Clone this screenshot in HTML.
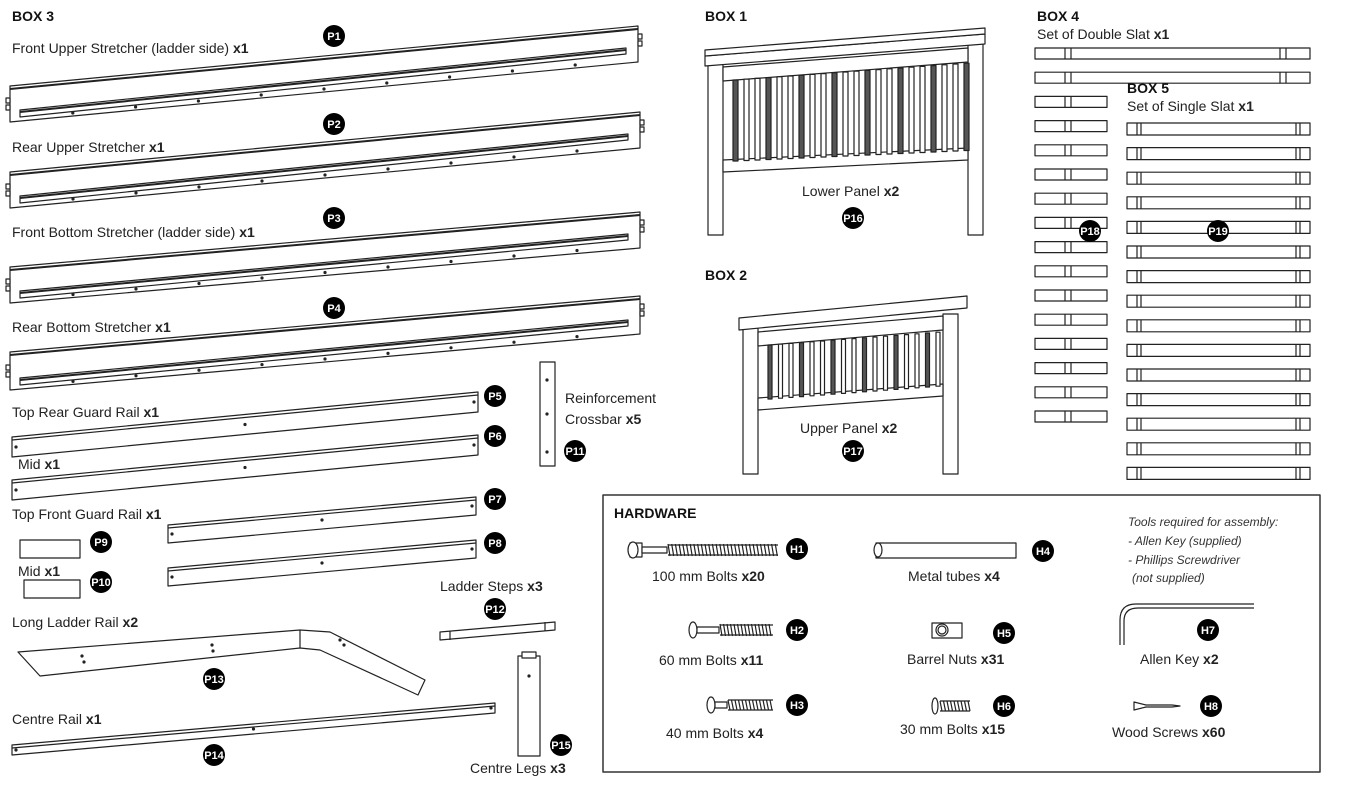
<!DOCTYPE html>
<html><head><meta charset="utf-8"><style>
body{margin:0;background:#fff;width:1351px;height:792px;overflow:hidden;font-family:"Liberation Sans",sans-serif}
svg{position:absolute;left:0;top:0}
.t{font-family:"Liberation Sans",sans-serif;font-size:14px;fill:#222}
.h{font-weight:bold;font-size:14px;fill:#111}
.b{font-weight:bold}
.i{font-style:italic;font-size:12px;fill:#333}
.lt{fill:#fff;font-weight:bold;font-size:11px;text-anchor:middle}
</style></head><body>
<svg id="s" width="1351" height="792" viewBox="0 0 1351 792" xmlns="http://www.w3.org/2000/svg" stroke-linejoin="round">
<g id="g" fill="none" stroke="#222" stroke-width="1.2"></g>
<rect x="603" y="495" width="717" height="277" fill="none" stroke="#333" stroke-width="1.5"/>
<g class="t">
<text x="12" y="21" class="h">BOX 3</text>
<text x="12" y="53">Front Upper Stretcher (ladder side) <tspan class="b">x1</tspan></text>
<text x="12" y="152">Rear Upper Stretcher <tspan class="b">x1</tspan></text>
<text x="12" y="237">Front Bottom Stretcher (ladder side) <tspan class="b">x1</tspan></text>
<text x="12" y="332">Rear Bottom Stretcher <tspan class="b">x1</tspan></text>
<text x="12" y="417">Top Rear Guard Rail <tspan class="b">x1</tspan></text>
<text x="18" y="469">Mid <tspan class="b">x1</tspan></text>
<text x="12" y="519">Top Front Guard Rail <tspan class="b">x1</tspan></text>
<text x="18" y="576">Mid <tspan class="b">x1</tspan></text>
<text x="12" y="627">Long Ladder Rail <tspan class="b">x2</tspan></text>
<text x="12" y="724">Centre Rail <tspan class="b">x1</tspan></text>
<text x="565" y="403">Reinforcement</text>
<text x="565" y="424">Crossbar <tspan class="b">x5</tspan></text>
<text x="440" y="591">Ladder Steps <tspan class="b">x3</tspan></text>
<text x="470" y="773">Centre Legs <tspan class="b">x3</tspan></text>
<text x="705" y="21" class="h">BOX 1</text>
<text x="802" y="196">Lower Panel <tspan class="b">x2</tspan></text>
<text x="705" y="280" class="h">BOX 2</text>
<text x="800" y="433">Upper Panel <tspan class="b">x2</tspan></text>
<text x="1037" y="21" class="h">BOX 4</text>
<text x="1037" y="39">Set of Double Slat <tspan class="b">x1</tspan></text>
<text x="1127" y="93" class="h">BOX 5</text>
<text x="1127" y="111">Set of Single Slat <tspan class="b">x1</tspan></text>
<text x="614" y="518" class="h">HARDWARE</text>
<text x="652" y="581">100 mm Bolts <tspan class="b">x20</tspan></text>
<text x="659" y="665">60 mm Bolts <tspan class="b">x11</tspan></text>
<text x="666" y="738">40 mm Bolts <tspan class="b">x4</tspan></text>
<text x="908" y="581">Metal tubes <tspan class="b">x4</tspan></text>
<text x="907" y="664">Barrel Nuts <tspan class="b">x31</tspan></text>
<text x="900" y="734">30 mm Bolts <tspan class="b">x15</tspan></text>
<text x="1140" y="664">Allen Key <tspan class="b">x2</tspan></text>
<text x="1112" y="737">Wood Screws <tspan class="b">x60</tspan></text>
<text x="1128" y="526" class="i">Tools required for assembly:</text>
<text x="1128" y="545" class="i">- Allen Key (supplied)</text>
<text x="1128" y="564" class="i">- Phillips Screwdriver</text>
<text x="1132" y="582" class="i">(not supplied)</text>
</g>
<g id="labels">
<circle cx="334" cy="36" r="11"/><text x="334" y="40" class="lt">P1</text>
<circle cx="334" cy="124" r="11"/><text x="334" y="128" class="lt">P2</text>
<circle cx="334" cy="218" r="11"/><text x="334" y="222" class="lt">P3</text>
<circle cx="334" cy="308" r="11"/><text x="334" y="312" class="lt">P4</text>
<circle cx="495" cy="396" r="11"/><text x="495" y="400" class="lt">P5</text>
<circle cx="495" cy="436" r="11"/><text x="495" y="440" class="lt">P6</text>
<circle cx="495" cy="499" r="11"/><text x="495" y="503" class="lt">P7</text>
<circle cx="495" cy="543" r="11"/><text x="495" y="547" class="lt">P8</text>
<circle cx="101" cy="542" r="11"/><text x="101" y="546" class="lt">P9</text>
<circle cx="101" cy="582" r="11"/><text x="101" y="586" class="lt">P10</text>
<circle cx="575" cy="451" r="11"/><text x="575" y="455" class="lt">P11</text>
<circle cx="495" cy="609" r="11"/><text x="495" y="613" class="lt">P12</text>
<circle cx="214" cy="679" r="11"/><text x="214" y="683" class="lt">P13</text>
<circle cx="214" cy="755" r="11"/><text x="214" y="759" class="lt">P14</text>
<circle cx="561" cy="745" r="11"/><text x="561" y="749" class="lt">P15</text>
<circle cx="853" cy="218" r="11"/><text x="853" y="222" class="lt">P16</text>
<circle cx="853" cy="451" r="11"/><text x="853" y="455" class="lt">P17</text>
<circle cx="1090" cy="231" r="11"/><text x="1090" y="235" class="lt">P18</text>
<circle cx="1218" cy="231" r="11"/><text x="1218" y="235" class="lt">P19</text>
<circle cx="797" cy="549" r="11"/><text x="797" y="553" class="lt">H1</text>
<circle cx="797" cy="630" r="11"/><text x="797" y="634" class="lt">H2</text>
<circle cx="797" cy="705" r="11"/><text x="797" y="709" class="lt">H3</text>
<circle cx="1043" cy="551" r="11"/><text x="1043" y="555" class="lt">H4</text>
<circle cx="1004" cy="633" r="11"/><text x="1004" y="637" class="lt">H5</text>
<circle cx="1004" cy="706" r="11"/><text x="1004" y="710" class="lt">H6</text>
<circle cx="1208" cy="630" r="11"/><text x="1208" y="634" class="lt">H7</text>
<circle cx="1211" cy="706" r="11"/><text x="1211" y="710" class="lt">H8</text>
</g>
</svg>
<script>
var g=document.getElementById('g'),o='';
function P(pts,f){o+='<polygon points="'+pts.map(function(p){return p.join(',')}).join(' ')+'" fill="'+(f||'#fff')+'"/>';}
function Ln(a,b,c,d,w){o+='<line x1="'+a+'" y1="'+b+'" x2="'+c+'" y2="'+d+'"'+(w?' stroke-width="'+w+'"':'')+'/>';}
function R(x,y,w,h,f){o+='<rect x="'+x+'" y="'+y+'" width="'+w+'" height="'+h+'" fill="'+(f||'#fff')+'"/>';}
function dot(x,y){o+='<circle cx="'+x+'" cy="'+y+'" r="1.6" fill="#222" stroke="none"/>';}
function str(x0,y0,x1,y1,t){
 P([[x0,y0],[x1,y1],[x1,y1+t],[x0,y0+t]]);
 Ln(x0,y0+3,x1,y1+3,2);
 P([[x0+10,y0+t-12],[x1-12,y1+t-14],[x1-12,y1+t-8],[x0+10,y0+t-5]]);
 Ln(x0+10,y0+t-10,x1-12,y1+t-12,2);
 for(var i=1;i<10;i++){var x=x0+(x1-x0)*i/10,y=y0+(y1-y0)*i/10;dot(x,y+t-3);}
 R(x0-4,y0+t/2-6,4,5);R(x0-4,y0+t/2+1,4,5);R(x1,y1+8,4,5);R(x1,y1+15,4,5);
}
str(10,86,638,26,36);str(10,172,640,112,36);str(10,267,640,212,36);str(10,352,640,296,38);
function rail(x0,y0,x1,y1,t){P([[x0,y0],[x1,y1],[x1,y1+t],[x0,y0+t]]);Ln(x0,y0+3,x1,y1+3);dot(x0+4,y0+t/2);dot(x1-4,y1+t/2);dot((x0+x1)/2,(y0+y1)/2+t/2);}
rail(12,437,478,392,20);rail(12,480,478,435,20);rail(168,525,476,497,18);rail(168,568,476,540,18);
rail(12,745,495,703,10);
R(20,540,60,18);R(24,580,56,18);
R(540,362,15,104);dot(547,380);dot(547,414);dot(547,452);
P([[440,632],[555,622],[555,630],[440,640]]);Ln(450,631,450,640);Ln(545,622,545,631);
R(518,656,22,100);R(522,652,14,6);dot(529,676);
P([[18,652],[300,630],[330,632],[425,680],[418,695],[320,650],[300,648],[40,676]]);Ln(300,630,300,648);
dot(82,656);dot(84,662);dot(212,645);dot(213,651);dot(340,640);dot(344,645);
// box1
R(708,55,15,180);R(968,40,15,195);P([[705,56],[985,34],[985,44],[705,66]]);P([[705,50],[985,28],[985,34],[705,56]]);
P([[723,67],[968,48],[968,62],[723,81]]);P([[723,160],[968,148],[968,160],[723,172]]);
for(var i=0;i<22;i++){var x=733+i*11;var f=(i%3==0)?'#555':'#fff';P([[x,80-i*.8],[x+5,80-i*.8],[x+5,161-i*.5],[x,161-i*.5]],f);}
// box2
R(743,328,15,146);R(943,314,15,160);P([[739,318],[967,296],[967,308],[739,330]]);
P([[758,332],[943,316],[943,330],[758,346]]);P([[758,398],[943,384],[943,396],[758,410]]);
for(var i=0;i<17;i++){var x=768+i*10.5;var f=(i%3==0)?'#555':'#fff';P([[x,345-i*.8],[x+4,345-i*.8],[x+4,399-i*.8],[x,399-i*.8]],f);}
// box4
for(var i=0;i<16;i++){var y=48+i*24.2;var w=(i<2)?275:72;R(1035,y,w,11);Ln(1065,y,1065,y+11);Ln(1071,y,1071,y+11);if(i<2){Ln(1280,y,1280,y+11);Ln(1286,y,1286,y+11);}}
// box5
for(var i=0;i<15;i++){var y=123+i*24.6;R(1127,y,183,12);Ln(1137,y,1137,y+12);Ln(1141,y,1141,y+12);Ln(1296,y,1296,y+12);Ln(1300,y,1300,y+12);}
// hardware
R(630,543,12,14);o+='<ellipse cx="633" cy="550" rx="5" ry="8" fill="#fff"/>';R(642,547,25,6);
for(var i=0;i<30;i++)Ln(668+i*3.7,544,668+i*3.7+2,556);Ln(668,545,778,545);Ln(668,555,778,555);
o+='<ellipse cx="693" cy="630" rx="4" ry="8" fill="#fff"/>';R(697,627,22,6);for(var i=0;i<15;i++)Ln(720+i*3.5,624,722+i*3.5,636);Ln(720,625,773,625);Ln(720,635,773,635);
o+='<ellipse cx="711" cy="705" rx="4" ry="8" fill="#fff"/>';R(715,702,12,6);for(var i=0;i<13;i++)Ln(728+i*3.5,700,730+i*3.5,710);Ln(728,700,773,700);Ln(728,710,773,710);
R(876,543,140,15);o+='<ellipse cx="878" cy="550" rx="4" ry="7" fill="#fff"/>';
R(932,623,30,15);o+='<ellipse cx="942" cy="630" rx="6" ry="6"/><ellipse cx="942" cy="630" rx="4" ry="4"/>';
o+='<ellipse cx="935" cy="706" rx="3" ry="8" fill="#fff"/>';for(var i=0;i<9;i++)Ln(940+i*3.5,701,942+i*3.5,711);Ln(940,701,970,701);Ln(940,711,970,711);
o+='<path d="M1120 645 V620 Q1120 604 1136 604 H1254 M1124 645 V621 Q1124 608 1138 608 H1254"/>';
o+='<path d="M1134 702 V710 L1146 707 L1172 707 L1180 706 L1172 705 L1146 705 Z" fill="#fff"/>';
g.innerHTML=o;
</script>
</body></html>
